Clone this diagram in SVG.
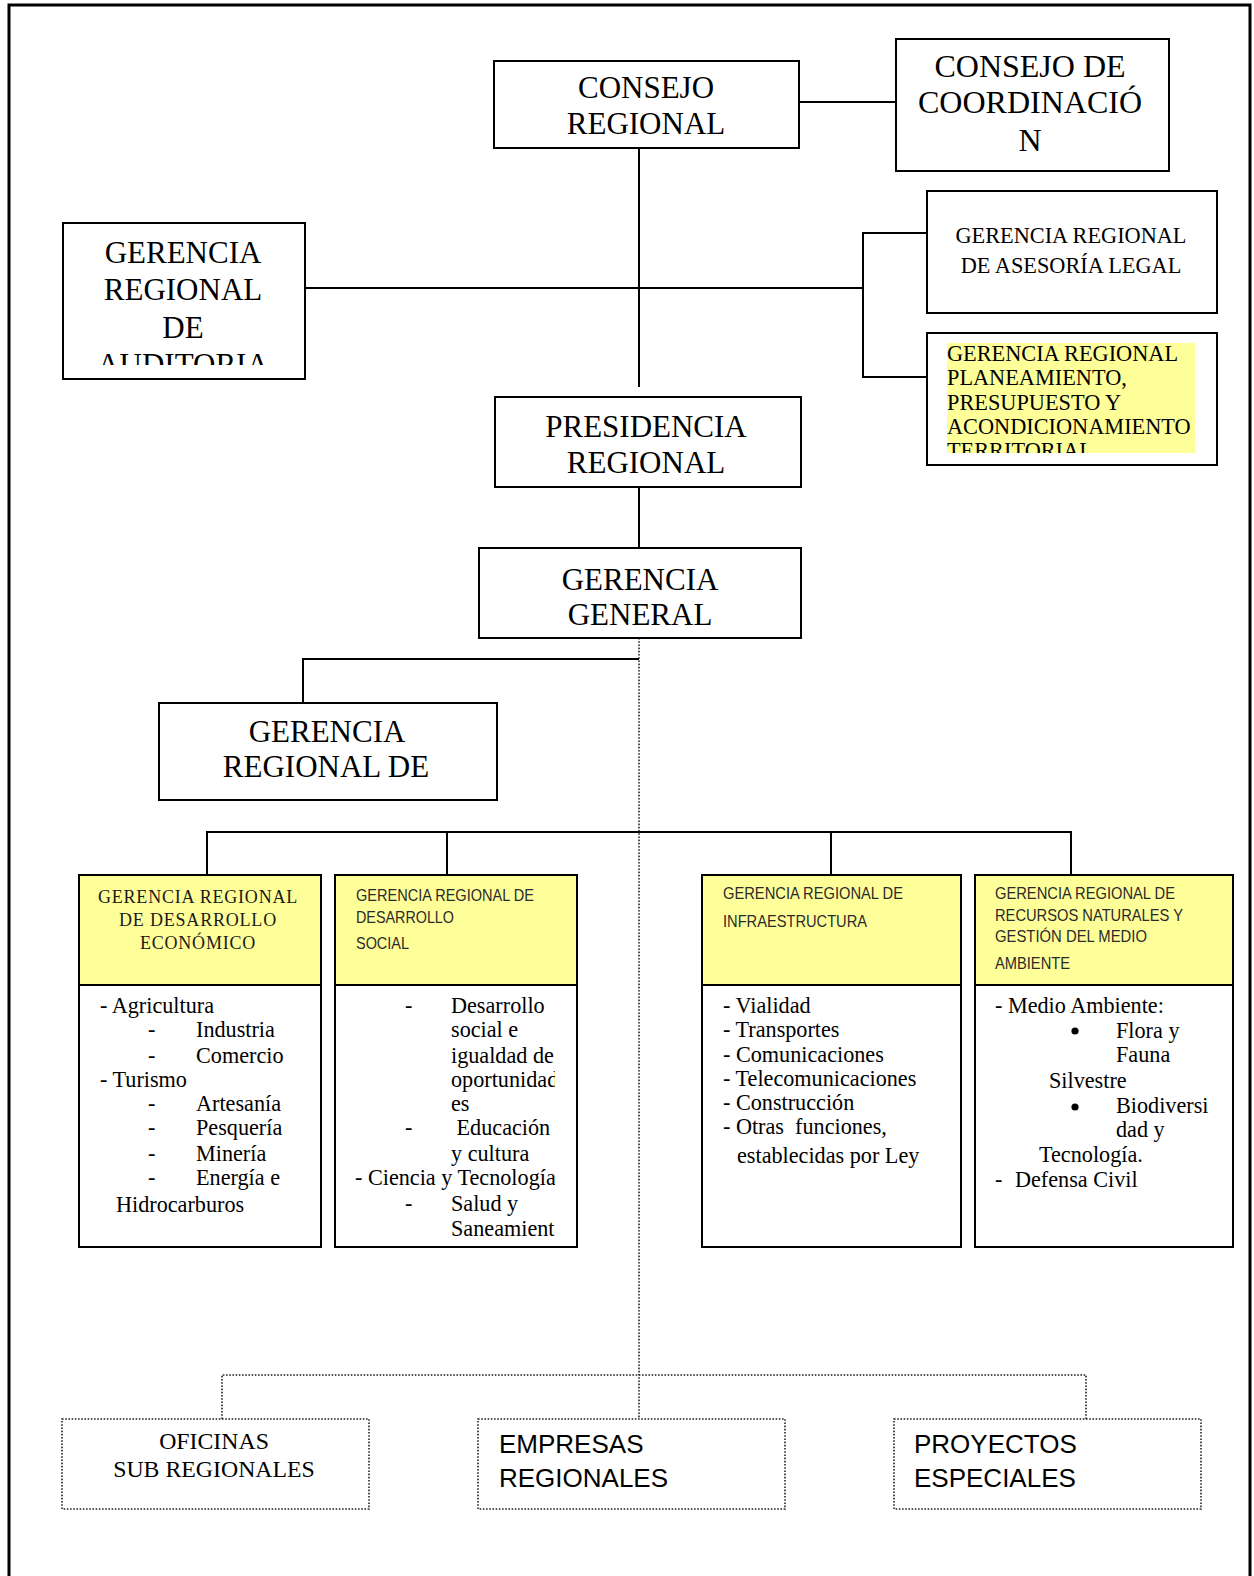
<svg xmlns="http://www.w3.org/2000/svg" width="1254" height="1576" viewBox="0 0 1254 1576">
<style>
.box{fill:#fff;stroke:#000;stroke-width:2}
.hdr{fill:#FFFF99}
.ln{fill:none;stroke:#000;stroke-width:2}
.dot{fill:none;stroke:#222;stroke-width:1.6;stroke-dasharray:1.6 1.6}
.dbox{fill:#fff;stroke:#222;stroke-width:1.6;stroke-dasharray:1.6 1.6}
.big{font-family:"Liberation Serif","Times New Roman",serif;font-size:31px;fill:#000;text-anchor:middle}
.mid{font-family:"Liberation Serif","Times New Roman",serif;font-size:22.3px;fill:#000}
.body{font-family:"Liberation Serif","Times New Roman",serif;font-size:22.2px;fill:#000;white-space:pre}
.h1{font-family:"Liberation Serif","Times New Roman",serif;font-size:18px;letter-spacing:0.8px;fill:#1a1a1a;text-anchor:middle}
.hs{font-family:"Liberation Sans",Arial,sans-serif;font-size:16.5px;fill:#2a2a2a}
.bot{font-family:"Liberation Serif","Times New Roman",serif;font-size:23.8px;fill:#000;text-anchor:middle}
.bots{font-family:"Liberation Sans",Arial,sans-serif;font-size:26px;fill:#000}
</style>
<defs>
<clipPath id="cpAud"><rect x="63" y="223" width="242" height="142"/></clipPath>
<clipPath id="cpPlan"><rect x="947" y="343" width="248" height="110"/></clipPath>
<clipPath id="cpB2"><rect x="336" y="986" width="219" height="260"/></clipPath>
</defs>

<rect width="1254" height="1576" fill="#fff"/>
<path d="M9,1576 V5 H1250 V1576" fill="none" stroke="#000" stroke-width="3"/>

<g id="connectors">
<line class="ln" x1="799" y1="102" x2="896" y2="102"/>
<line class="ln" x1="639" y1="148" x2="639" y2="387"/>
<line class="ln" x1="305" y1="288" x2="863" y2="288"/>
<path class="ln" d="M927,233 H863 V377 H927"/>
<line class="ln" x1="639" y1="487" x2="639" y2="548"/>
<path class="ln" d="M639,659 H303 V703"/>
<line class="dot" x1="639" y1="638" x2="639" y2="1419"/>
<path class="ln" d="M207,875 V832 H1071 V875"/>
<line class="ln" x1="447" y1="832" x2="447" y2="875"/>
<line class="ln" x1="831" y1="832" x2="831" y2="875"/>
<path class="dot" d="M222,1419 V1375 H1086 V1419"/>
</g>

<g id="consejo-regional">
<rect class="box" x="494" y="61" width="305" height="87"/>
<text class="big" x="646" y="98">CONSEJO</text>
<text class="big" x="646" y="134">REGIONAL</text>
</g>

<g id="consejo-coordinacion">
<rect class="box" x="896" y="39" width="273" height="132"/>
<text class="big" x="1030" y="77" style="font-size:32px">CONSEJO DE</text>
<text class="big" x="1030" y="113" style="font-size:32px">COORDINACIÓ</text>
<text class="big" x="1030" y="151" style="font-size:32px">N</text>
</g>

<g id="gerencia-auditoria">
<rect class="box" x="63" y="223" width="242" height="156"/>
<g clip-path="url(#cpAud)">
<text class="big" x="183" y="263">GERENCIA</text>
<text class="big" x="183" y="300">REGIONAL</text>
<text class="big" x="183" y="338">DE</text>
<text class="big" x="183" y="375">AUDITORIA</text>
</g>
</g>

<g id="gerencia-asesoria">
<rect class="box" x="927" y="191" width="290" height="122"/>
<text class="mid" x="1071" y="243" text-anchor="middle">GERENCIA REGIONAL</text>
<text class="mid" x="1071" y="273" text-anchor="middle">DE ASESORÍA LEGAL</text>
</g>

<g id="gerencia-planeamiento">
<rect class="box" x="927" y="333" width="290" height="132"/>
<rect class="hdr" x="947" y="343" width="248" height="110"/>
<g clip-path="url(#cpPlan)">
<text class="mid" x="947" y="361">GERENCIA REGIONAL</text>
<text class="mid" x="947" y="385">PLANEAMIENTO,</text>
<text class="mid" x="947" y="410">PRESUPUESTO Y</text>
<text class="mid" x="947" y="434">ACONDICIONAMIENTO</text>
<text class="mid" x="947" y="458">TERRITORIAL</text>
</g>
</g>

<g id="presidencia-regional">
<rect class="box" x="495" y="397" width="306" height="90"/>
<text class="big" x="646" y="437">PRESIDENCIA</text>
<text class="big" x="646" y="473">REGIONAL</text>
</g>

<g id="gerencia-general">
<rect class="box" x="479" y="548" width="322" height="90"/>
<text class="big" x="640" y="590">GERENCIA</text>
<text class="big" x="640" y="625">GENERAL</text>
</g>

<g id="gerencia-regional-de">
<rect class="box" x="159" y="703" width="338" height="97"/>
<text class="big" x="327" y="742">GERENCIA</text>
<text class="big" x="326" y="777">REGIONAL DE</text>
</g>

<g id="gerencia-desarrollo-economico">
<rect class="box" x="79" y="875" width="242" height="372"/>
<rect class="hdr" x="80" y="876" width="240" height="109"/>
<line class="ln" x1="79" y1="985" x2="321" y2="985"/>
<text class="h1" x="198" y="903">GERENCIA REGIONAL</text>
<text class="h1" x="198" y="926">DE DESARROLLO</text>
<text class="h1" x="198" y="949">ECONÓMICO</text>
<text class="body" x="100" y="1013">- Agricultura</text>
<text class="body" x="148" y="1037">-</text><text class="body" x="196" y="1037">Industria</text>
<text class="body" x="148" y="1063">-</text><text class="body" x="196" y="1063">Comercio</text>
<text class="body" x="100" y="1087">- Turismo</text>
<text class="body" x="148" y="1111">-</text><text class="body" x="196" y="1111">Artesanía</text>
<text class="body" x="148" y="1135">-</text><text class="body" x="196" y="1135">Pesquería</text>
<text class="body" x="148" y="1161">-</text><text class="body" x="196" y="1161">Minería</text>
<text class="body" x="148" y="1185">-</text><text class="body" x="196" y="1185">Energía e</text>
<text class="body" x="116" y="1212">Hidrocarburos</text>
</g>

<g id="gerencia-desarrollo-social">
<rect class="box" x="335" y="875" width="242" height="372"/>
<rect class="hdr" x="336" y="876" width="240" height="109"/>
<line class="ln" x1="335" y1="985" x2="577" y2="985"/>
<text class="hs" x="356" y="901" textLength="178" lengthAdjust="spacingAndGlyphs">GERENCIA REGIONAL DE</text>
<text class="hs" x="356" y="923" textLength="98" lengthAdjust="spacingAndGlyphs">DESARROLLO</text>
<text class="hs" x="356" y="949" textLength="53" lengthAdjust="spacingAndGlyphs">SOCIAL</text>
<g clip-path="url(#cpB2)">
<text class="body" x="405" y="1013">-</text><text class="body" x="451" y="1013">Desarrollo</text>
<text class="body" x="451" y="1037">social e</text>
<text class="body" x="451" y="1063">igualdad de</text>
<text class="body" x="451" y="1087">oportunidad</text>
<text class="body" x="451" y="1111">es</text>
<text class="body" x="405" y="1135">-</text><text class="body" x="451" y="1135"> Educación</text>
<text class="body" x="451" y="1161">y cultura</text>
<text class="body" x="355" y="1185">- Ciencia y Tecnología</text>
<text class="body" x="405" y="1211">-</text><text class="body" x="451" y="1211">Salud y</text>
<text class="body" x="451" y="1236">Saneamiento</text>
</g>
</g>

<g id="gerencia-infraestructura">
<rect class="box" x="702" y="875" width="259" height="372"/>
<rect class="hdr" x="703" y="876" width="257" height="109"/>
<line class="ln" x1="702" y1="985" x2="961" y2="985"/>
<text class="hs" x="723" y="899" textLength="180" lengthAdjust="spacingAndGlyphs">GERENCIA REGIONAL DE</text>
<text class="hs" x="723" y="927" textLength="144" lengthAdjust="spacingAndGlyphs">INFRAESTRUCTURA</text>
<text class="body" x="723" y="1013">- Vialidad</text>
<text class="body" x="723" y="1037">- Transportes</text>
<text class="body" x="723" y="1062">- Comunicaciones</text>
<text class="body" x="723" y="1086">- Telecomunicaciones</text>
<text class="body" x="723" y="1110">- Construcción</text>
<text class="body" x="723" y="1134">- Otras  funciones,</text>
<text class="body" x="737" y="1163">establecidas por Ley</text>
</g>

<g id="gerencia-recursos-naturales">
<rect class="box" x="975" y="875" width="258" height="372"/>
<rect class="hdr" x="976" y="876" width="256" height="109"/>
<line class="ln" x1="975" y1="985" x2="1233" y2="985"/>
<text class="hs" x="995" y="899" textLength="180" lengthAdjust="spacingAndGlyphs">GERENCIA REGIONAL DE</text>
<text class="hs" x="995" y="921" textLength="188" lengthAdjust="spacingAndGlyphs">RECURSOS NATURALES Y</text>
<text class="hs" x="995" y="942" textLength="152" lengthAdjust="spacingAndGlyphs">GESTIÓN DEL MEDIO</text>
<text class="hs" x="995" y="969" textLength="75" lengthAdjust="spacingAndGlyphs">AMBIENTE</text>
<text class="body" x="995" y="1013">- Medio Ambiente:</text>
<circle cx="1075" cy="1031" r="3.6" fill="#000"/>
<text class="body" x="1116" y="1038">Flora y</text>
<text class="body" x="1116" y="1062">Fauna</text>
<text class="body" x="1049" y="1088">Silvestre</text>
<circle cx="1075" cy="1107" r="3.6" fill="#000"/>
<text class="body" x="1116" y="1113">Biodiversi</text>
<text class="body" x="1116" y="1137">dad y</text>
<text class="body" x="1039" y="1162">Tecnología.</text>
<text class="body" x="995" y="1187">-</text><text class="body" x="1015" y="1187">Defensa Civil</text>
</g>

<g id="oficinas-subregionales">
<rect class="dbox" x="62" y="1419" width="307" height="90"/>
<text class="bot" x="214" y="1449">OFICINAS</text>
<text class="bot" x="214" y="1477">SUB REGIONALES</text>
</g>

<g id="empresas-regionales">
<rect class="dbox" x="478" y="1419" width="307" height="90"/>
<text class="bots" x="499" y="1453">EMPRESAS</text>
<text class="bots" x="499" y="1487">REGIONALES</text>
</g>

<g id="proyectos-especiales">
<rect class="dbox" x="894" y="1419" width="307" height="90"/>
<text class="bots" x="914" y="1453">PROYECTOS</text>
<text class="bots" x="914" y="1487">ESPECIALES</text>
</g>
</svg>
